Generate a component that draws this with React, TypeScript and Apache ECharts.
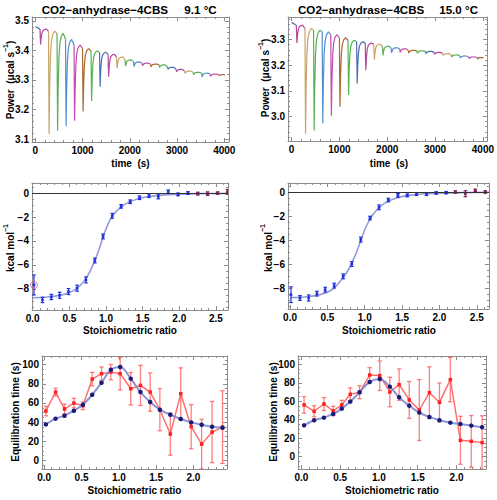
import React, { useEffect, useRef } from "react";
import * as echarts from "echarts";

// ---------------- Top row: raw thermograms ----------------
const INJECTION_TIMES = [100, 280, 460, 640, 820, 1000, 1180, 1360, 1540, 1720, 1900, 2080, 2260, 2440, 2620, 2800, 2980, 3160, 3340, 3520, 3700, 3880];
const RUN_END = 3990;
// baseline level at t=0, at each injection and at the end of the run
const BASELINE_9C = [3.481, 3.472, 3.465, 3.458, 3.437, 3.418, 3.406, 3.398, 3.394, 3.387, 3.378, 3.368, 3.361, 3.357, 3.354, 3.351, 3.343, 3.336, 3.33, 3.326, 3.323, 3.32, 3.318, 3.316];
const PEAK_MIN_9C = [3.42, 3.117, 3.128, 3.143, 3.162, 3.193, 3.229, 3.277, 3.311, 3.34, 3.347, 3.345, 3.348, 3.344, 3.342, 3.336, 3.328, 3.322, 3.318, 3.31, 3.312, 3.314];
const BASELINE_15C = [3.367, 3.356, 3.343, 3.336, 3.33, 3.319, 3.307, 3.297, 3.291, 3.286, 3.282, 3.274, 3.268, 3.264, 3.258, 3.256, 3.254, 3.25, 3.245, 3.24, 3.236, 3.232, 3.23, 3.228];
const PEAK_MIN_15C = [3.287, 2.932, 2.945, 2.973, 3.003, 3.038, 3.084, 3.128, 3.18, 3.222, 3.238, 3.248, 3.25, 3.247, 3.246, 3.245, 3.242, 3.238, 3.232, 3.228, 3.226, 3.224];
// shape of one injection peak (time after injection, fraction of depth)
const PEAK_OFFSET_S = [0, 5, 12, 24, 40, 60, 90, 130];
const PEAK_DEPTH_FRAC = [0, 0.5, 1, 0.55, 0.25, 0.1, 0.03, 0];
const SEGMENT_COLORS = ["#4a6fb3", "#b3479c", "#c8a468", "#5aaf58", "#4f8fcf", "#c04da8", "#a8682f", "#52b552"];

// ---------------- Middle row: integrated heats ----------------
const RATIO_9C = [0.017, 0.133, 0.254, 0.367, 0.488, 0.605, 0.726, 0.847, 0.959, 1.085, 1.206, 1.33, 1.457, 1.587, 1.714, 1.849, 1.983, 2.118, 2.253, 2.387, 2.522, 2.657];
const HEAT_9C = [-7.67, -8.92, -8.67, -8.53, -8.22, -7.94, -7.25, -5.63, -3.62, -1.9, -1.11, -0.72, -0.39, -0.22, -0.28, 0.11, -0.11, 0.0, -0.05, -0.05, 0.0, 0.1];
const HEAT_ERR_9C = [0.83, 0.22, 0.22, 0.25, 0.25, 0.25, 0.25, 0.2, 0.2, 0.2, 0.15, 0.15, 0.15, 0.15, 0.2, 0.15, 0.12, 0.12, 0.12, 0.15, 0.1, 0.2];
const FIT_X_9C = [0, 0.2, 0.4, 0.5, 0.6, 0.7, 0.78, 0.85, 0.9, 0.95, 1.0, 1.05, 1.1, 1.2, 1.3, 1.45, 1.6, 1.8, 2.0, 2.3, 2.665];
const FIT_Y_9C = [-8.74, -8.68, -8.5, -8.3, -7.98, -7.35, -6.55, -5.6, -4.8, -3.85, -3.0, -2.3, -1.8, -1.2, -0.8, -0.45, -0.28, -0.15, -0.09, -0.05, -0.03];
const RATIO_15C = [0.013, 0.133, 0.249, 0.36, 0.471, 0.591, 0.711, 0.827, 0.947, 1.071, 1.191, 1.316, 1.444, 1.569, 1.693, 1.827, 1.956, 2.089, 2.213, 2.347, 2.48, 2.613];
const HEAT_15C = [-8.56, -8.83, -8.83, -8.47, -8.14, -7.8, -7.03, -6.0, -3.97, -2.17, -1.28, -0.67, -0.28, -0.28, -0.17, -0.17, -0.08, -0.06, 0.0, -0.14, 0.14, 0.0];
const HEAT_ERR_15C = [0.65, 0.2, 0.25, 0.2, 0.2, 0.2, 0.2, 0.2, 0.2, 0.15, 0.2, 0.15, 0.15, 0.12, 0.12, 0.12, 0.1, 0.1, 0.1, 0.25, 0.1, 0.1];
const FIT_X_15C = [0, 0.2, 0.4, 0.5, 0.6, 0.7, 0.78, 0.85, 0.9, 0.95, 1.0, 1.05, 1.1, 1.2, 1.3, 1.45, 1.6, 1.8, 2.0, 2.3, 2.663];
const FIT_Y_15C = [-8.8, -8.75, -8.55, -8.35, -7.95, -7.2, -6.5, -5.6, -4.85, -4.0, -3.15, -2.5, -1.95, -1.25, -0.8, -0.45, -0.28, -0.15, -0.09, -0.05, -0.02];
const FITTED_COUNT = 18;

// ---------------- Bottom row: equilibration times ----------------
const EQ_RATIO_9C = [0.022, 0.152, 0.272, 0.397, 0.518, 0.643, 0.768, 0.893, 1.018, 1.16, 1.29, 1.42, 1.55, 1.69, 1.83, 1.97, 2.11, 2.25, 2.39];
const EQ_MODEL_9C = [37.6, 43.6, 46.7, 51.9, 58.2, 68.6, 81.2, 94.8, 97.6, 85.4, 71.4, 61.0, 53.0, 47.7, 43.2, 39.7, 37.3, 35.2, 34.1];
const EQ_MEAS_9C = [51.6, 71.4, 53.7, 59.9, 57.1, 85.0, 90.6, 92.3, 90.6, 74.9, 78.4, 71.4, 53.0, 27.5, 69.7, 35.2, 17.0, 29.6, 34.8];
const EQ_ERR_9C = [5, 4, 5, 5, 4, 7, 7, 8, 17, 17, 21, 20, 22, 22, 27, 23, 26, 32, 38];
const EQ_RATIO_15C = [0.034, 0.164, 0.29, 0.41, 0.52, 0.63, 0.75, 0.88, 1.01, 1.14, 1.26, 1.39, 1.52, 1.65, 1.78, 1.92, 2.05, 2.19, 2.33];
const EQ_MODEL_15C = [33.9, 39.4, 42.2, 46.2, 52.0, 59.6, 69.7, 80.9, 84.1, 75.8, 64.3, 55.2, 47.7, 43.0, 39.4, 36.8, 35.4, 33.6, 31.8];
const EQ_MEAS_15C = [56, 49.1, 57, 49.5, 56, 67.5, 69.7, 88.4, 87.7, 70, 78, 61.4, 50.5, 69.3, 58.8, 83.4, 17.7, 16.6, 15.2];
const EQ_ERR_15C = [9, 6, 7, 5, 5, 7, 7, 8, 16, 16, 17, 20, 33, 28, 21, 24, 26, 28, 29];

const TITLE_NAME = "CO2−anhydrase−4CBS";
const TEMPS = ["9.1 °C", "15.0 °C"];

const FONT = "'Liberation Sans', Arial, Helvetica, sans-serif";
const FRAME = "#8c8c8c";

const fmt1 = (v: number) => v.toFixed(1);
const fmtInt = (v: number) => String(Math.round(v));
const fmtMinus = (v: number) => String(Math.round(v)).replace("-", "\u2212");

const PANELS = [
  { left: 32, top: 17, width: 197, height: 125, x: [-70, 4100], y: [3.09, 3.513], xFmt: fmtInt, yFmt: fmt1, xMinor: 5, yMinor: 5 },
  { left: 288, top: 17, width: 203, height: 124, x: [-75, 4090], y: [2.904, 3.388], xFmt: fmtInt, yFmt: fmt1, xMinor: 5, yMinor: 5 },
  { left: 32, top: 183, width: 196, height: 127, x: [-0.01, 2.665], y: [-9.76, 0.84], xFmt: fmt1, yFmt: fmtMinus, xMinor: 5, yMinor: 4 },
  { left: 288, top: 183, width: 201, height: 126, x: [-0.027, 2.663], y: [-9.75, 0.75], xFmt: fmt1, yFmt: fmtMinus, xMinor: 5, yMinor: 4 },
  { left: 42, top: 356, width: 185, height: 113, x: [-0.03, 2.45], y: [-9, 109.1], xFmt: fmt1, yFmt: fmtInt, xMinor: 5, yMinor: 4 },
  { left: 298, top: 356, width: 188, height: 113, x: [-0.044, 2.38], y: [-13.4, 109], xFmt: fmt1, yFmt: fmtInt, xMinor: 5, yMinor: 4 },
];

function buildSegments(base: number[], mins: number[]) {
  const segs: number[][][] = [];
  segs.push([[0, base[0]], [INJECTION_TIMES[0], base[1]]]);
  for (let i = 0; i < INJECTION_TIMES.length; i++) {
    const t0 = INJECTION_TIMES[i];
    const b = base[i + 1];
    const tEnd = i + 1 < INJECTION_TIMES.length ? INJECTION_TIMES[i + 1] : RUN_END;
    const pts = PEAK_OFFSET_S.map((o, k) => [t0 + o, b - PEAK_DEPTH_FRAC[k] * (b - mins[i])]);
    pts.push([tEnd, base[i + 2]]);
    segs.push(pts);
  }
  return segs;
}

function errorBars(g: number, xs: number[], ys: number[], errs: number[], colorFn: (i: number) => string, opts: any) {
  return {
    type: "custom",
    xAxisIndex: 2 * g,
    yAxisIndex: 2 * g,
    clip: true,
    z: opts.z ?? 3,
    data: xs.map((x, i) => [x, ys[i], errs[i], i]),
    renderItem: (_p: any, api: any) => {
      const x = api.value(0), y = api.value(1), e = api.value(2), i = api.value(3);
      const col = colorFn(i);
      const t = api.coord([x, y + e]);
      const b = api.coord([x, y - e]);
      const c = api.coord([x, y]);
      const st = { stroke: col, lineWidth: opts.lw, opacity: opts.opacity ?? 1 };
      const cw = opts.cap;
      const children: any[] = [
        { type: "line", shape: { x1: t[0], y1: t[1], x2: b[0], y2: b[1] }, style: st },
        { type: "line", shape: { x1: t[0] - cw, y1: t[1], x2: t[0] + cw, y2: t[1] }, style: st },
        { type: "line", shape: { x1: b[0] - cw, y1: b[1], x2: b[0] + cw, y2: b[1] }, style: st },
      ];
      if (opts.marker) {
        const m = opts.marker;
        children.push({ type: "rect", shape: { x: c[0] - m / 2, y: c[1] - m / 2, width: m, height: m }, style: { fill: opts.markerColor ?? col } });
      }
      return { type: "group", children };
    },
  };
}

function txt(x: number, y: number, text: string, size: number, align: string, rotate = false, rich?: any) {
  return {
    type: "text",
    x,
    y,
    rotation: rotate ? Math.PI / 2 : 0,
    style: {
      text,
      fill: "#000",
      fontSize: size,
      fontWeight: "bold",
      fontFamily: FONT,
      align,
      verticalAlign: "middle",
      textAlign: align,
      textVerticalAlign: "middle",
      rich,
    },
  };
}

function supRich(size: number) {
  return {
    b: { fontSize: size, fontWeight: "bold", fontFamily: FONT, fill: "#000", color: "#000", lineHeight: size + 4, verticalAlign: "bottom" },
    s: { fontSize: size * 0.7, fontWeight: "bold", fontFamily: FONT, fill: "#000", color: "#000", lineHeight: size * 0.7, verticalAlign: "top" },
  };
}

function buildOption() {
  const grid: any[] = [];
  const xAxis: any[] = [];
  const yAxis: any[] = [];
  PANELS.forEach((p, g) => {
    grid.push({ left: p.left, top: p.top, width: p.width, height: p.height, containLabel: false });
    const common = (min: number, max: number, minor: number) => ({
      type: "value",
      gridIndex: g,
      min,
      max,
      splitLine: { show: false },
      minorSplitLine: { show: false },
      axisLine: { show: true, onZero: false, lineStyle: { color: FRAME, width: 1 } },
      axisTick: { show: true, inside: true, length: 4, lineStyle: { color: FRAME } },
      minorTick: { show: true, splitNumber: minor, length: 2, lineStyle: { color: FRAME } },
    });
    const lbl = (f: any) => ({ show: true, formatter: f, color: "#000", fontSize: 10, fontWeight: "bold", fontFamily: FONT, margin: 3, showMinLabel: false, showMaxLabel: false });
    xAxis.push({ ...common(p.x[0], p.x[1], p.xMinor), position: "bottom", axisLabel: lbl(p.xFmt) });
    xAxis.push({ ...common(p.x[0], p.x[1], p.xMinor), position: "top", axisLabel: { show: false } });
    yAxis.push({ ...common(p.y[0], p.y[1], p.yMinor), position: "left", axisLabel: lbl(p.yFmt) });
    yAxis.push({ ...common(p.y[0], p.y[1], p.yMinor), position: "right", axisLabel: { show: false } });
  });

  const series: any[] = [];
  // thermograms
  [buildSegments(BASELINE_9C, PEAK_MIN_9C), buildSegments(BASELINE_15C, PEAK_MIN_15C)].forEach((segs, g) => {
    segs.forEach((pts, i) => {
      series.push({
        type: "line",
        xAxisIndex: 2 * g,
        yAxisIndex: 2 * g,
        data: pts,
        showSymbol: false,
        symbol: "none",
        lineStyle: { color: SEGMENT_COLORS[i % SEGMENT_COLORS.length], width: 1.2 },
        clip: true,
      });
    });
  });

  // integrated heats
  const heatSets = [
    { g: 2, xs: RATIO_9C, ys: HEAT_9C, es: HEAT_ERR_9C, fx: FIT_X_9C, fy: FIT_Y_9C },
    { g: 3, xs: RATIO_15C, ys: HEAT_15C, es: HEAT_ERR_15C, fx: FIT_X_15C, fy: FIT_Y_15C },
  ];
  heatSets.forEach((s) => {
    series.push({
      type: "line",
      xAxisIndex: 2 * s.g,
      yAxisIndex: 2 * s.g,
      data: s.fx.map((x, i) => [x, s.fy[i]]),
      smooth: 0.3,
      symbol: "none",
      lineStyle: { color: "#8088d4", width: 1.6, opacity: 0.85 },
      z: 2,
      markLine: {
        silent: true,
        symbol: "none",
        label: { show: false },
        data: [{ yAxis: 0 }],
        lineStyle: { color: "#333", width: 1, type: "solid" },
      },
    });
    series.push(
      errorBars(s.g, s.xs, s.ys, s.es, (i) => (i < FITTED_COUNT ? "#1f2fe0" : "#7d2060"), { lw: 1.2, cap: 1.8, marker: 2.6 })
    );
  });
  // excluded first point (open circle)
  series.push({
    type: "scatter",
    xAxisIndex: 4,
    yAxisIndex: 4,
    data: [[RATIO_9C[0], HEAT_9C[0]]],
    symbol: "circle",
    symbolSize: 7,
    itemStyle: { color: "rgba(0,0,0,0)", borderColor: "#d0508a", borderWidth: 1 },
    z: 5,
  });

  // equilibration times
  const eqSets = [
    { g: 4, xs: EQ_RATIO_9C, model: EQ_MODEL_9C, meas: EQ_MEAS_9C, err: EQ_ERR_9C },
    { g: 5, xs: EQ_RATIO_15C, model: EQ_MODEL_15C, meas: EQ_MEAS_15C, err: EQ_ERR_15C },
  ];
  eqSets.forEach((s) => {
    series.push(errorBars(s.g, s.xs, s.meas, s.err, () => "#ff4a4a", { lw: 1.3, cap: 2.2, opacity: 0.7, z: 2 }));
    series.push({
      type: "line",
      xAxisIndex: 2 * s.g,
      yAxisIndex: 2 * s.g,
      data: s.xs.map((x, i) => [x, s.meas[i]]),
      symbol: "rect",
      symbolSize: 3.5,
      itemStyle: { color: "#ff2020" },
      lineStyle: { color: "#ff4d4d", width: 1.4, opacity: 0.85 },
      clip: true,
      z: 3,
    });
    series.push({
      type: "line",
      xAxisIndex: 2 * s.g,
      yAxisIndex: 2 * s.g,
      data: s.xs.map((x, i) => [x, s.model[i]]),
      smooth: 0.35,
      symbol: "circle",
      symbolSize: 4.5,
      itemStyle: { color: "#1c1c78" },
      lineStyle: { color: "#7f88d0", width: 2, opacity: 0.9 },
      clip: true,
      z: 4,
    });
  });

  const graphic: any[] = [
    txt(41.7, 9, TITLE_NAME, 11.6, "left"),
    txt(216.7, 9, TEMPS[0], 11.6, "right"),
    txt(298, 9, TITLE_NAME, 11.6, "left"),
    txt(478, 9, TEMPS[1], 11.6, "right"),
    txt(130.5, 163, "time  (s)", 10, "center"),
    txt(389, 163, "time  (s)", 10, "center"),
    txt(8.5, 80, "{b|Power  (μcal s}{s|−1}{b|)}", 10, "center", true, supRich(10)),
    txt(263.5, 78, "{b|Power  (μcal s}{s|−1}{b|)}", 10, "center", true, supRich(10)),
    txt(130, 330, "Stoichiometric ratio", 10, "center"),
    txt(389, 330, "Stoichiometric ratio", 10, "center"),
    txt(8.5, 248, "{b|kcal mol}{s|−1}", 10, "center", true, supRich(10)),
    txt(266, 248, "{b|kcal mol}{s|−1}", 10, "center", true, supRich(10)),
    txt(134.5, 490, "Stoichiometric ratio", 10, "center"),
    txt(392, 490, "Stoichiometric ratio", 10, "center"),
    txt(15, 412, "Equilibration time (s)", 10, "center", true),
    txt(273, 412, "Equilibration time (s)", 10, "center", true),
  ];

  return { animation: false, backgroundColor: "#ffffff", grid, xAxis, yAxis, series, graphic };
}

export default function App() {
  const ref = useRef<HTMLDivElement>(null);
  useEffect(() => {
    if (!ref.current) return;
    const chart = echarts.init(ref.current, undefined, { renderer: "svg" });
    chart.setOption(buildOption() as any);
    return () => chart.dispose();
  }, []);
  return <div ref={ref} style={{ position: "absolute", left: 0, top: 0, width: 497, height: 500, background: "#fff" }} />;
}
